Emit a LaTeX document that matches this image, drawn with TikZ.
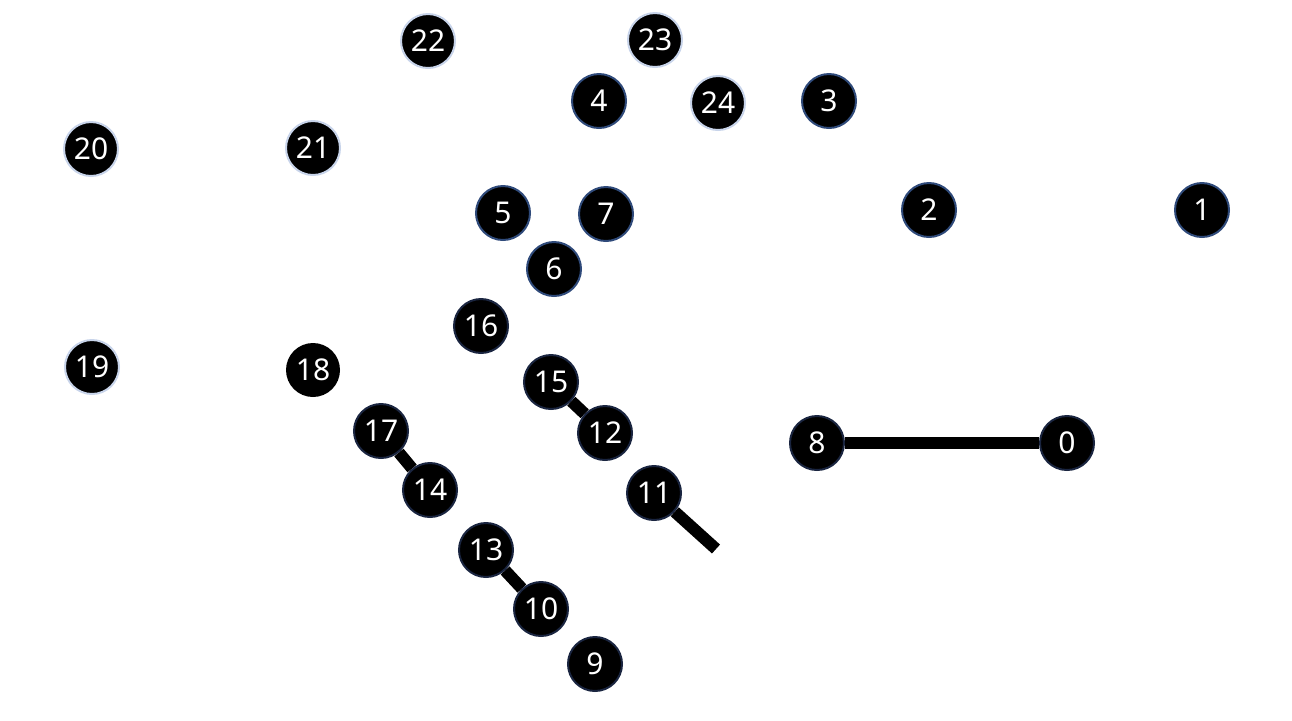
\documentclass[tikz,border=0pt]{standalone}
\usepackage{fontspec}
\setmainfont{Noto Sans}
\usepackage{tikz}
\usetikzlibrary{positioning}

\definecolor{rimnavy}{RGB}{47,74,122}
\definecolor{rimdark}{RGB}{26,37,64}
\definecolor{rimlight}{RGB}{200,212,234}

\tikzset{
  ball/.style={circle, fill=black, text=white, minimum size=27pt, inner sep=0pt,
    font=\fontsize{15}{17}\selectfont, line width=1pt},
  ballnavy/.style={ball, draw=rimnavy},
  balldark/.style={ball, draw=rimdark},
  balllight/.style={ball, draw=rimlight},
  bond/.style={line width=6pt, black}
}

\begin{document}
\begin{tikzpicture}[x=0.5pt,y=0.5pt,yscale=-1,xscale=1]
\useasboundingbox (0,0) rectangle (1292,720);

% Nodes, top row
\node [balllight] (n22) at (428,41) {22};
\node [balllight] (n23) at (655,40) {23};
\node [ballnavy]  (n4)  at (599,101) {4};
\node [balllight] (n24) at (718,103) {24};
\node [ballnavy]  (n3)  at (829,101) {3};
\node [balllight] (n20) at (91,149) {20};
\node [balllight] (n21) at (313,148) {21};
\node [ballnavy]  (n5)  at (503,213) {5};
\node [ballnavy]  (n7)  at (606,214) {7};
\node [ballnavy]  (n2)  at (929,210) {2};
\node [ballnavy]  (n1)  at (1202,210) {1};
\node [ballnavy]  (n6)  at (554,269) {6};
% Nodes, middle
\node [balldark]  (n16) at (481,326) {16};
\node [balllight] (n19) at (92,367) {19};
\node [ball]      (n18) at (313,370) {18};
\node [balldark]  (n15) at (551,382) {15};
\node [balldark]  (n12) at (605,433) {12};
\node [balldark]  (n8)  at (817,443) {8};
\node [balldark]  (n0)  at (1067,443) {0};
% Nodes, bottom
\node [balldark]  (n17) at (381,431) {17};
\node [balldark]  (n14) at (430,490) {14};
\node [balldark]  (n11) at (654,493) {11};
\node [balldark]  (n13) at (486,550) {13};
\node [balldark]  (n10) at (541,609) {10};
\node [balldark]  (n9)  at (595,664) {9};
\coordinate (end11) at (716,549);

% Bonds
\draw [bond] (n8) -- (n0);
\draw [bond] (n15) -- (n12);
\draw [bond] (n17) -- (n14);
\draw [bond] (n13) -- (n10);
\draw [bond] (n11) -- (end11);

\end{tikzpicture}
\end{document}
